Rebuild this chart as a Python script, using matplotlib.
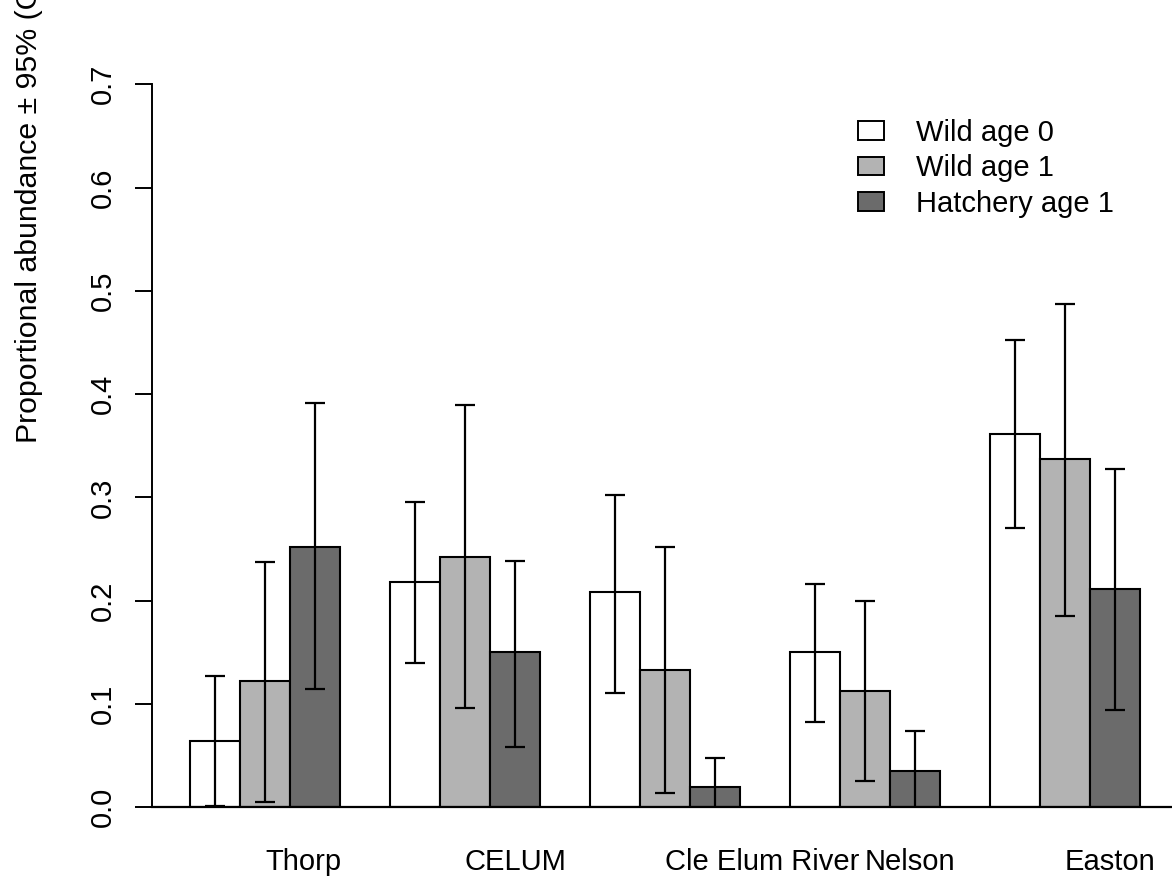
import matplotlib
matplotlib.use("Agg")
import matplotlib.pyplot as plt
from matplotlib.patches import Patch
import numpy as np

plt.rcParams['font.family'] = ['Liberation Sans', 'DejaVu Sans']

sites = ["Thorp", "CELUM", "Cle Elum River", "Nelson", "Easton"]
series = ["Wild age 0", "Wild age 1", "Hatchery age 1"]

wild0 = [0.0645, 0.218, 0.208, 0.150, 0.361]
wild0_lo = [0.001, 0.140, 0.111, 0.083, 0.270]
wild0_hi = [0.127, 0.296, 0.302, 0.2165, 0.452]

wild1 = [0.122, 0.242, 0.133, 0.113, 0.337]
wild1_lo = [0.005, 0.096, 0.014, 0.0255, 0.185]
wild1_hi = [0.237, 0.389, 0.252, 0.200, 0.487]

hatch1 = [0.252, 0.150, 0.020, 0.035, 0.211]
hatch1_lo = [0.1145, 0.0587, -0.01, -0.01, 0.0945]
hatch1_hi = [0.391, 0.238, 0.0474, 0.0736, 0.3275]

yticks = [0.0, 0.1, 0.2, 0.3, 0.4, 0.5, 0.6, 0.7]
ytick_labels = ["0.0", "0.1", "0.2", "0.3", "0.4", "0.5", "0.6", "0.7"]

colors = ["#FFFFFF", "#B3B3B3", "#6B6B6B"]

FS = 21

W, H = 1172, 882
fig = plt.figure(figsize=(W / 100, H / 100), dpi=100)

y0_px = 807.3
px_per_unit = 1033.0
ytop = 0.75
ax_left = 152
ax_bottom = H - y0_px
ax_height = ytop * px_per_unit
ax = fig.add_axes([ax_left / W, ax_bottom / H, (W - ax_left) / W, ax_height / H])

vals = [wild0, wild1, hatch1]
los = [wild0_lo, wild1_lo, hatch1_lo]
his = [wild0_hi, wild1_hi, hatch1_hi]

ngroups = len(sites)
for j in range(3):
    centers = np.arange(ngroups) * 4 + 1.5 + j
    v = np.array(vals[j])
    ax.bar(centers, v, width=1.0, color=colors[j], edgecolor="black", linewidth=1.5, zorder=2)
    lo = np.array(los[j]); hi = np.array(his[j])
    ax.errorbar(centers, v, yerr=[v - lo, hi - v], fmt='none', ecolor='black',
                elinewidth=1.6, capsize=7.2, capthick=1.6, zorder=3)

ax.set_xlim(0.24, 0.24 + (W - ax_left) / 50.0)
ax.set_ylim(0, ytop)

for s in ["top", "right"]:
    ax.spines[s].set_visible(False)
ax.spines["left"].set_bounds(0, 0.7)
ax.spines["left"].set_linewidth(1.4)
ax.spines["bottom"].set_linewidth(1.6)

ax.set_yticks(yticks, ytick_labels)
ax.tick_params(axis='y', length=12, width=1.4, pad=13, labelsize=FS, labelrotation=90)
for lab in ax.get_yticklabels():
    lab.set_va('center')

group_centers = np.arange(ngroups) * 4 + 2.5
ax.set_xticks(group_centers, sites)
ax.tick_params(axis='x', length=0, pad=29, labelsize=FS)
for lab in ax.get_xticklabels():
    lab.set_ha('left')

fig.text(37 / W, (H - 443) / H, "Proportional abundance \u00b1 95% (CI)", rotation=90,
         rotation_mode='anchor', ha='left', va='baseline', fontsize=21.8)

handles = [Patch(facecolor=c, edgecolor='black', linewidth=1.4) for c in colors]
fig.legend(handles, series, loc='upper left', bbox_to_anchor=(858 / W, (H - 119) / H),
           frameon=False, fontsize=FS, borderpad=0, borderaxespad=0,
           handlelength=0.88, handleheight=0.62, handletextpad=1.12, labelspacing=0.25)

fig.savefig("out.png", dpi=100)
